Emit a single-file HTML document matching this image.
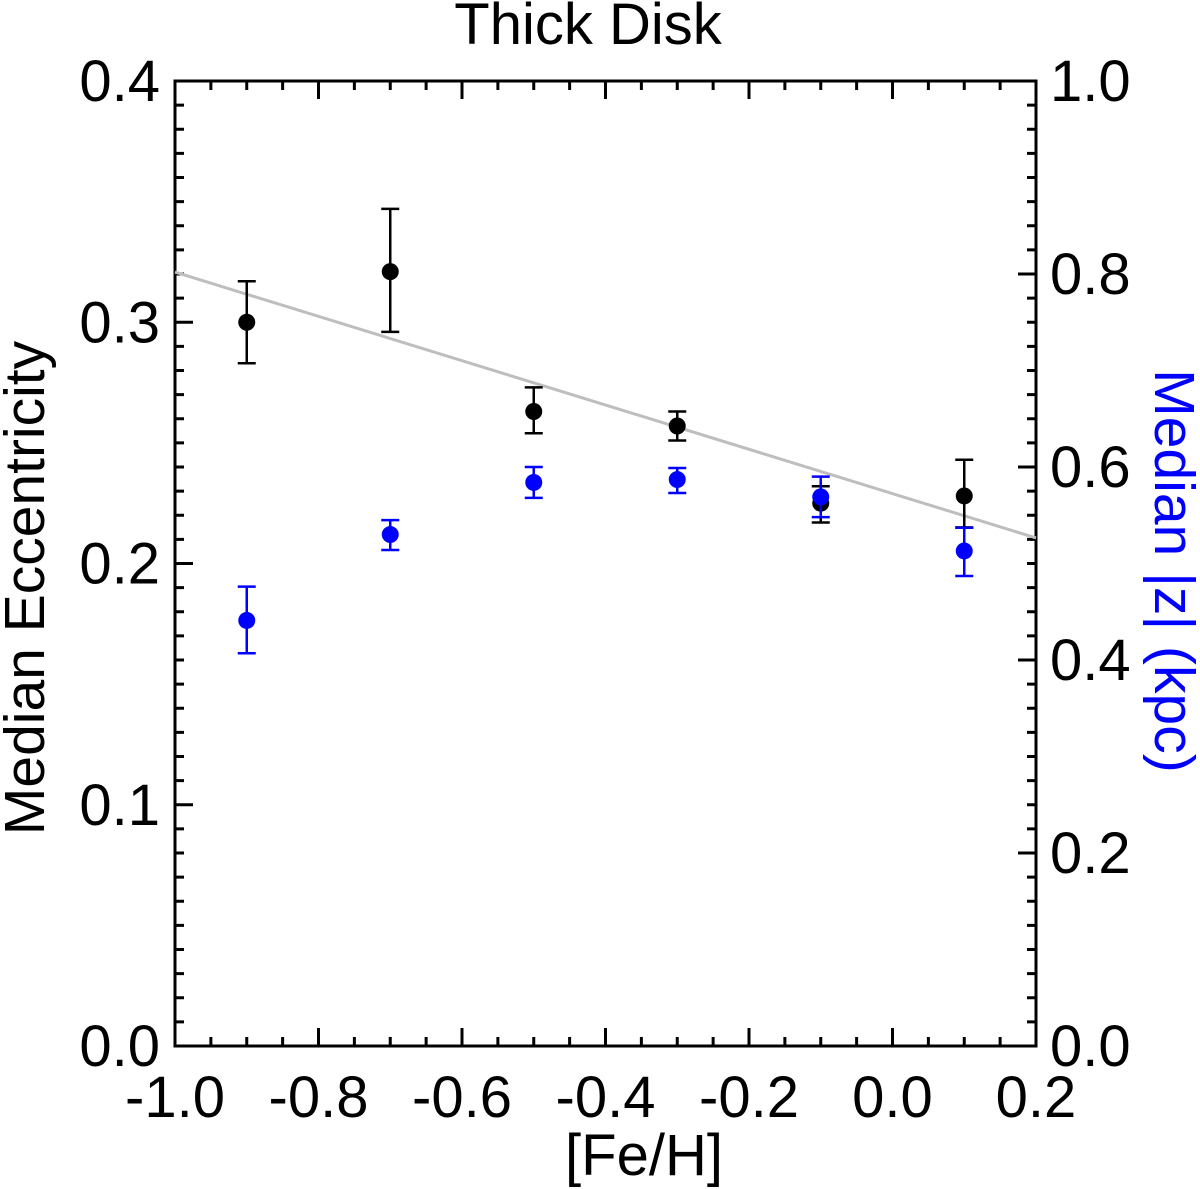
<!DOCTYPE html>
<html><head><meta charset="utf-8"><style>
html,body{margin:0;padding:0;background:#fff;}
svg{display:block;font-family:"Liberation Sans",sans-serif;}
</style></head><body>
<svg id="chart" width="1200" height="1189" viewBox="0 0 1200 1189"></svg>
<script>
const feh = [-0.9, -0.7, -0.5, -0.3, -0.1, 0.1];
const eccMed = [0.300, 0.321, 0.263, 0.257, 0.225, 0.228];
const eccLo = [0.283, 0.296, 0.254, 0.251, 0.217, 0.215];
const eccHi = [0.317, 0.347, 0.273, 0.263, 0.232, 0.243];
const zMed = [0.441, 0.530, 0.584, 0.587, 0.569, 0.513];
const zLo = [0.407, 0.514, 0.568, 0.573, 0.548, 0.487];
const zHi = [0.476, 0.545, 0.600, 0.599, 0.590, 0.537];
const fitX = [-1.0, 0.2];
const fitY = [0.3208, 0.2106];
const xTicks = ["-1.0","-0.8","-0.6","-0.4","-0.2","0.0","0.2"];
const yTicks = ["0.0","0.1","0.2","0.3","0.4"];
const y2Ticks = ["0.0","0.2","0.4","0.6","0.8","1.0"];

const L=175,R=1036,T=81,B=1046;
const sx=v=>L+(v+1.0)/1.2*(R-L);
const sy=v=>B-v/0.4*(B-T);
const sy2=v=>B-v/1.0*(B-T);
const svg=document.getElementById('chart');
const NS='http://www.w3.org/2000/svg';
function mk(tag,attrs,parent){const e=document.createElementNS(NS,tag);for(const k in attrs)e.setAttribute(k,attrs[k]);(parent||svg).appendChild(e);return e;}

let t=mk('text',{x:588,y:44,'font-size':58,'text-anchor':'middle'});t.textContent='Thick Disk';



let fr=mk('rect',{x:L,y:T,width:R-L,height:B-T,fill:'none',stroke:'#000','stroke-width':3});



const ticks=mk('g',{stroke:'#000','stroke-width':3});


for(let i=0;i<=24;i++){const v=-1.0+i*0.05;const x=sx(v);const len=(i%4===0)?18:9;
 mk('line',{x1:x,y1:B,x2:x,y2:B-len},ticks);mk('line',{x1:x,y1:T,x2:x,y2:T+len},ticks);}
xTicks.forEach((s,i)=>{const v=parseFloat(s);const tx=mk('text',{x:sx(v),y:1117,'font-size':58,'text-anchor':'middle'});tx.textContent=s;
 
 });
for(let i=0;i<=40;i++){const y=sy(i*0.01);const len=(i%10===0)?18:9;mk('line',{x1:L,y1:y,x2:L+len,y2:y},ticks);}
yTicks.forEach(s=>{const v=parseFloat(s);const tx=mk('text',{x:160,y:sy(v)+20,'font-size':58,'text-anchor':'end'});tx.textContent=s;
 
 });
for(let i=0;i<=40;i++){const y=sy2(i*0.025);const len=(i%8===0)?18:9;mk('line',{x1:R,y1:y,x2:R-len,y2:y},ticks);}
y2Ticks.forEach(s=>{const v=parseFloat(s);const tx=mk('text',{x:1050,y:sy2(v)+20,'font-size':58,'text-anchor':'start'});tx.textContent=s;
 
 });

let xl=mk('text',{x:644,y:1175,'font-size':58,'text-anchor':'middle'});xl.textContent='[Fe/H]';


let yl=mk('text',{x:0,y:0,'font-size':57,'text-anchor':'middle',transform:'translate(44,588) rotate(-90)'});yl.textContent='Median Eccentricity';


let y2l=mk('text',{x:0,y:0,'font-size':57,'text-anchor':'middle',fill:'#0000ff',transform:'translate(1155,571) rotate(90)'});y2l.textContent='Median |z| (kpc)';



let fl=mk('line',{x1:sx(fitX[0]),y1:sy(fitY[0]),x2:sx(fitX[1]),y2:sy(fitY[1]),stroke:'#bebebe','stroke-width':3});



function series(med,lo,hi,scale,color,name){
 const g=mk('g',{stroke:color,'stroke-width':2.5,fill:color});
 
 
 feh.forEach((v,i)=>{const x=sx(v);
  mk('line',{x1:x,y1:scale(lo[i]),x2:x,y2:scale(hi[i])},g);
  mk('line',{x1:x-9,y1:scale(lo[i]),x2:x+9,y2:scale(lo[i])},g);
  mk('line',{x1:x-9,y1:scale(hi[i]),x2:x+9,y2:scale(hi[i])},g);
  const c=mk('circle',{cx:x,cy:scale(med[i]),r:8.5,stroke:'none'},g);
  
  
 });
}
series(eccMed,eccLo,eccHi,sy,'#000','eccentricity-series');
series(zMed,zLo,zHi,sy2,'#0000ff','height-series');
</script>
</body></html>
